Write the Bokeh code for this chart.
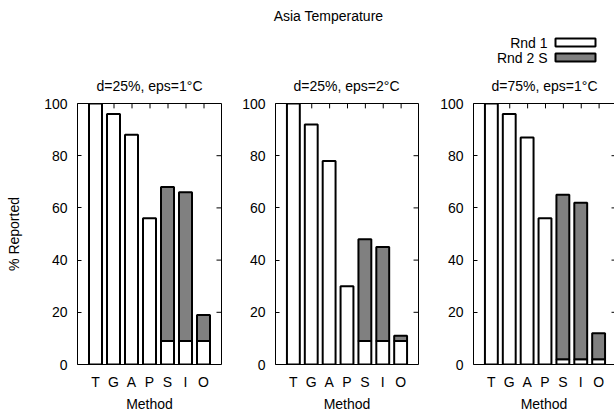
from bokeh.plotting import figure
from bokeh.layouts import row, column
from bokeh.models import LinearAxis, FixedTicker, Range1d
from bokeh.embed import file_html
from bokeh.resources import INLINE

# ---- data ----
methods = ["T", "G", "A", "P", "S", "I", "O"]
panel_titles = ["d=25%, eps=1°C", "d=25%, eps=2°C", "d=75%, eps=1°C"]
rnd1_a = [100, 96, 88, 56, 9, 9, 9]
rnd2_a = [None, None, None, None, 68, 66, 19]
rnd1_b = [100, 92, 78, 30, 9, 9, 9]
rnd2_b = [None, None, None, None, 48, 45, 11]
rnd1_c = [100, 96, 87, 56, 2, 2, 2]
rnd2_c = [None, None, None, None, 65, 62, 12]
y_ticks = [0, 20, 40, 60, 80, 100]
main_title = "Asia Temperature"
x_label = "Method"
y_label = "% Reported"
legend_labels = ["Rnd 1", "Rnd 2 S"]

# ---- styling / layout ----
FONT = "Liberation Sans"
FS = "14px"
GRAY = "#808080"
W = 614
HEADER_H = 95
PANEL_H = 414 - HEADER_H
BORDER_TOP = 8
BORDER_BOTTOM = 44
SLOT_PX = 18.0
FRAME_W = 144
FRAME_H = PANEL_H - BORDER_TOP - BORDER_BOTTOM
TICK_PX = 5
# (figure width, min_border_left, min_border_right, visible frame width)
geoms = [(239, 77, 18, 144), (198, 35, 19, 144), (177, 35, 0, 142)]


def make_panel(rnd1, rnd2, geom, first, last):
    width, bl, br, frame_w = geom
    pos = list(range(len(methods)))
    x_end_full = -1 + FRAME_W / SLOT_PX
    p = figure(width=width, height=PANEL_H,
               x_range=Range1d(-1, -1 + frame_w / SLOT_PX), y_range=Range1d(0, 100),
               output_backend="svg", toolbar_location=None,
               min_border_left=bl, min_border_right=br,
               min_border_top=BORDER_TOP, min_border_bottom=BORDER_BOTTOM,
               x_axis_location=None, y_axis_location=None,
               outline_line_color=None, background_fill_color="white",
               border_fill_color="white")
    p.grid.visible = False

    def axis(**kw):
        return LinearAxis(major_tick_out=0,
                          minor_tick_line_color=None,
                          axis_line_color="black", major_tick_line_color="black",
                          major_label_text_font=FONT, major_label_text_font_size=FS,
                          major_label_text_color="black",
                          axis_label_text_font=FONT, axis_label_text_font_size=FS,
                          axis_label_text_font_style="normal",
                          axis_label_text_color="black", **kw)

    left = axis(ticker=FixedTicker(ticks=y_ticks), major_tick_in=4,
                major_label_standoff=10)
    if first:
        left.axis_label = y_label
        left.axis_label_standoff = 19
    p.add_layout(left, "left")

    below = axis(ticker=FixedTicker(ticks=pos), major_tick_in=0, major_label_standoff=9,
                 major_label_overrides={i: m for i, m in enumerate(methods)},
                 axis_label=x_label, axis_label_standoff=3)
    p.add_layout(below, "below")

    # frame lines on top / right (no ticks, no labels)
    p.add_layout(axis(ticker=FixedTicker(ticks=[]), major_tick_in=0,
                      major_label_standoff=0), "above")
    if not last:
        p.add_layout(axis(ticker=FixedTicker(ticks=[]), major_tick_in=0,
                          major_label_standoff=0), "right")

    # mirrored inward ticks on the top and right edges (half-pixel offset: crisp)
    ty = TICK_PX * 100.0 / FRAME_H
    tx = TICK_PX / SLOT_PX
    half = 0.5 / SLOT_PX
    p.segment(x0=[x + half for x in pos], x1=[x + half for x in pos],
              y0=[100] * len(pos), y1=[100 - ty] * len(pos),
              line_color="black", line_width=1)
    p.segment(x0=[x_end_full] * len(y_ticks), x1=[x_end_full - tx] * len(y_ticks),
              y0=y_ticks, y1=y_ticks, line_color="black", line_width=1)

    p.vbar(x=pos, bottom=0, top=rnd1, width=0.72, fill_color="white",
           line_color="black", line_width=2)
    idx = [i for i, v in enumerate(rnd2) if v is not None]
    p.vbar(x=[pos[i] for i in idx], bottom=[rnd1[i] for i in idx],
           top=[rnd2[i] for i in idx], width=0.72, fill_color=GRAY,
           line_color="black", line_width=2)
    return p


p1 = make_panel(rnd1_a, rnd2_a, geoms[0], True, False)
p2 = make_panel(rnd1_b, rnd2_b, geoms[1], False, False)
p3 = make_panel(rnd1_c, rnd2_c, geoms[2], False, True)

# ---- header: main title, legend, panel titles (pixel coordinates) ----
h = figure(width=W, height=HEADER_H, x_range=Range1d(0, W), y_range=Range1d(HEADER_H, 0),
           output_backend="svg", toolbar_location=None,
           min_border_left=0, min_border_right=0, min_border_top=0, min_border_bottom=0,
           x_axis_location=None, y_axis_location=None, outline_line_color=None,
           background_fill_color="white", border_fill_color="white")
h.grid.visible = False

centers = []
acc = 0
for g in geoms:
    centers.append(acc + g[1] + FRAME_W / 2)
    acc += g[0]
h.text(x=centers, y=[85] * 3, text=panel_titles, text_align="center",
       text_baseline="middle", text_font={"value": FONT}, text_font_size=FS,
       text_color="black")
h.text(x=[328], y=[15], text=[main_title], text_align="center",
       text_baseline="middle", text_font={"value": FONT}, text_font_size=FS,
       text_color="black")
leg_y = [42, 57]
h.text(x=[547, 547], y=leg_y, text=legend_labels, text_align="right",
       text_baseline="middle", text_font={"value": FONT}, text_font_size=FS,
       text_color="black")
h.rect(x=[575, 575], y=leg_y, width=40, height=8, fill_color=["white", GRAY],
       line_color="black", line_width=2)

layout = column(h, row(p1, p2, p3, spacing=0), spacing=0)
open("out.html", "w").write(file_html(layout, INLINE))
